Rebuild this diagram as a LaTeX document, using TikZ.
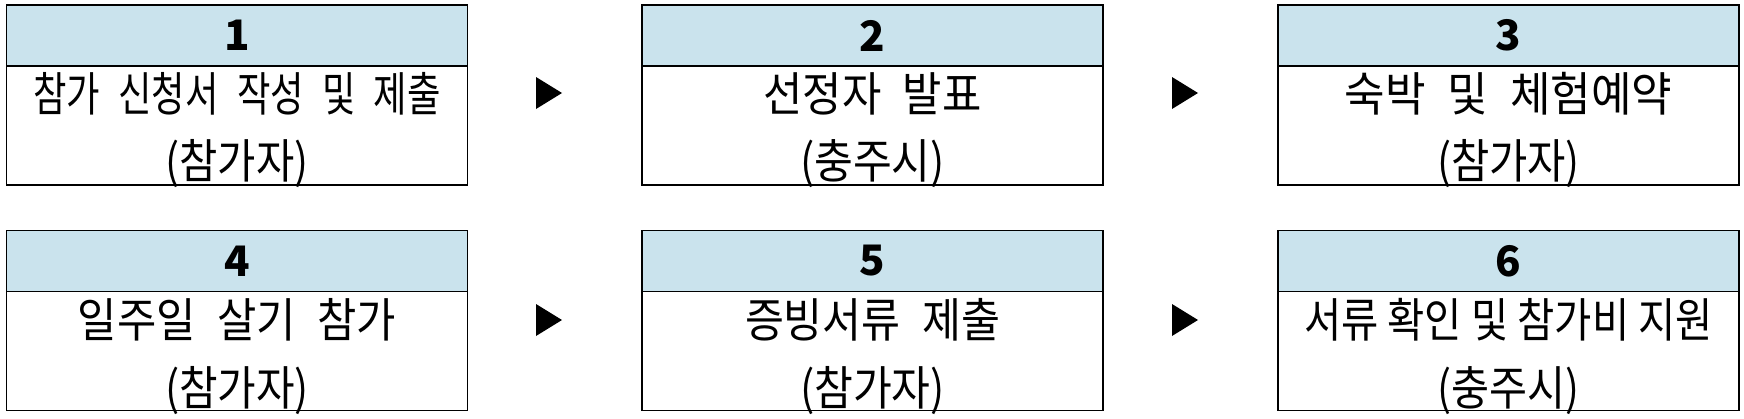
\documentclass[tikz,border=0pt]{standalone}
\usepackage{fontspec}
\usepackage{graphicx}
\newfontfamily\kofont{Noto Sans CJK KR}
\usepackage{tikz}
\usetikzlibrary{positioning}
\definecolor{headblue}{RGB}{202,227,237}
\tikzstyle{head}=[draw=black,line width=1.3pt,outer sep=0pt,inner sep=0pt,fill=headblue,minimum width=461pt,minimum height=61pt,font=\kofont\bfseries\fontsize{42}{42}\selectfont]
\tikzstyle{body}=[draw=black,line width=1.3pt,outer sep=0pt,inner sep=0pt,minimum width=461pt,minimum height=119pt]
\tikzstyle{line}=[inner sep=0pt,font=\kofont\fontsize{47}{47}\selectfont]
\newcommand{\fitline}[2]{\resizebox{#1pt}{\height}{#2}}
\newcommand{\gap}{\hspace{0.5em}}

\begin{document}
\begin{tikzpicture}[x=1pt,y=-1pt]
	\useasboundingbox (0,0) rectangle (1744,418);
	% first row
	\node[head](h1) at (237,35.5){1};
	\node[body](b1)[below=0pt of h1]{};
	\node[line](t1a) at ([yshift=-28pt]b1.north){\fitline{407}{참가\gap 신청서\gap 작성\gap 및\gap 제출}};
	\node[line](t1b) at ([yshift=-98pt]b1.north){\fitline{143}{(참가자)}};
	\node[head](h2) at (872.5,35.5){2};
	\node[body](b2)[below=0pt of h2]{};
	\node[line](t2a) at ([yshift=-28pt]b2.north){\fitline{218}{선정자\gap 발표}};
	\node[line](t2b) at ([yshift=-98pt]b2.north){\fitline{145}{(충주시)}};
	\node[head](h3) at (1508.5,35.5){3};
	\node[body](b3)[below=0pt of h3]{};
	\node[line](t3a) at ([yshift=-28pt]b3.north){\fitline{328}{숙박\gap 및\gap 체험예약}};
	\node[line](t3b) at ([yshift=-98pt]b3.north){\fitline{143}{(참가자)}};
	% second row
	\node[head](h4) at (237,261){4};
	\node[body](b4)[below=0pt of h4]{};
	\node[line](t4a) at ([yshift=-28pt]b4.north){\fitline{318}{일주일\gap 살기\gap 참가}};
	\node[line](t4b) at ([yshift=-99pt]b4.north){\fitline{144}{(참가자)}};
	\node[head](h5) at (872.5,261){5};
	\node[body](b5)[below=0pt of h5]{};
	\node[line](t5a) at ([yshift=-28pt]b5.north){\fitline{255}{증빙서류\gap 제출}};
	\node[line](t5b) at ([yshift=-99pt]b5.north){\fitline{145}{(참가자)}};
	\node[head](h6) at (1508.5,261){6};
	\node[body](b6)[below=0pt of h6]{};
	\node[line](t6a) at ([yshift=-28pt]b6.north){\fitline{409}{서류 확인 및 참가비 지원}};
	\node[line](t6b) at ([yshift=-99pt]b6.north){\fitline{142}{(충주시)}};
	% arrows between the steps
	\coordinate (a12) at (549,93);
	\coordinate (a23) at (1185,93);
	\coordinate (a45) at (549,320);
	\coordinate (a56) at (1185,320);
	\foreach \a in {a12,a23,a45,a56}
		\fill[shift={(\a)}] (-13,-16) -- (13,0) -- (-13,16) -- cycle;
\end{tikzpicture}
\end{document}
